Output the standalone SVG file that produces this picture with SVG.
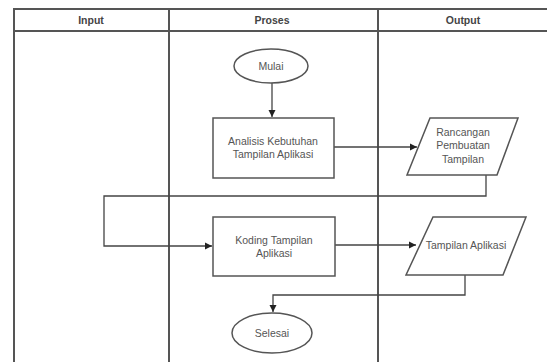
<svg xmlns="http://www.w3.org/2000/svg" width="547" height="362" viewBox="0 0 547 362">
<defs>
<marker id="arr" markerWidth="8" markerHeight="8" refX="7" refY="4" orient="auto" markerUnits="userSpaceOnUse">
<path d="M0,0.5 L7,4 L0,7.5 Z" fill="#222"/>
</marker>
<style>
.lane{fill:none;stroke:#555;stroke-width:2}
.shape{fill:#fff;stroke:#555;stroke-width:1.5}
.t{font-family:"Liberation Sans",Arial,sans-serif;font-size:10.5px;fill:#555;text-anchor:middle}
.h{font-family:"Liberation Sans",Arial,sans-serif;font-size:10.5px;fill:#444;font-weight:bold;text-anchor:middle}
.c{fill:none;stroke:#444;stroke-width:1.3}
</style>
</defs>
<rect width="547" height="362" fill="#fff"/>
<g id="lanes">
<path class="lane" d="M14,362 V9 H548 M14,31 H548 M169,9 V362 M378,9 V362"/>
<text class="h" x="91" y="24">Input</text>
<text class="h" x="272" y="24">Proses</text>
<text class="h" x="463" y="24">Output</text>
</g>
<g id="connectors">
<path class="c" d="M272,83 V117" marker-end="url(#arr)"/>
<path class="c" d="M334,147 H417" marker-end="url(#arr)"/>
<path class="c" d="M486,175 V196 H104 V246 H212" marker-end="url(#arr)"/>
<path class="c" d="M335,245 H416" marker-end="url(#arr)"/>
<path class="c" d="M465,275 V295 H273 V312" marker-end="url(#arr)"/>
</g>
<g id="mulai">
<ellipse class="shape" cx="271" cy="66" rx="37" ry="17"/>
<text class="t" x="271" y="70">Mulai</text>
</g>
<g id="analisis">
<rect class="shape" x="213" y="118" width="121" height="60"/>
<text class="t" x="273" y="145">Analisis Kebutuhan</text>
<text class="t" x="273" y="158">Tampilan Aplikasi</text>
</g>
<g id="rancangan">
<polygon class="shape" points="430,118 518,118 497,175 407,175"/>
<text class="t" x="463" y="136">Rancangan</text>
<text class="t" x="463" y="149">Pembuatan</text>
<text class="t" x="463" y="163">Tampilan</text>
</g>
<g id="koding">
<rect class="shape" x="213" y="217" width="122" height="59"/>
<text class="t" x="274" y="244">Koding Tampilan</text>
<text class="t" x="274" y="257">Aplikasi</text>
</g>
<g id="tampilan">
<polygon class="shape" points="433,217 526,217 503,275 406,275"/>
<text class="t" x="466" y="249">Tampilan Aplikasi</text>
</g>
<g id="selesai">
<ellipse class="shape" cx="272" cy="333" rx="40" ry="20"/>
<text class="t" x="272" y="337">Selesai</text>
</g>
</svg>
